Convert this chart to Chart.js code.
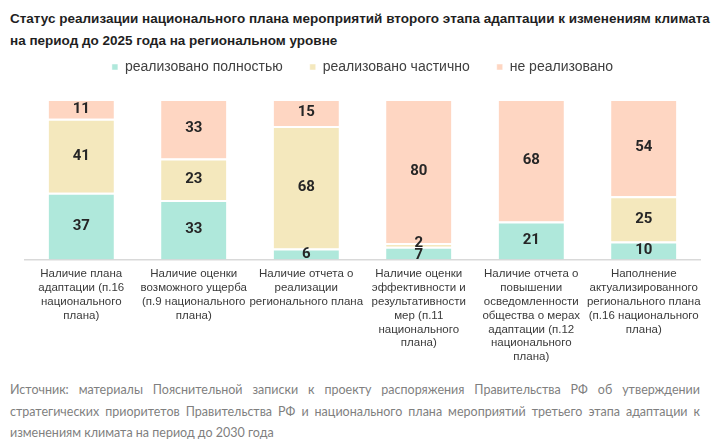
<!DOCTYPE html>
<html lang="ru">
<head>
<meta charset="utf-8">
<script src="https://cdn.jsdelivr.net/npm/chart.js@4"></script>
<style>
  html, body { margin: 0; padding: 0; background: #fff; }
  body { width: 724px; height: 446px; position: relative; overflow: hidden; }
  .title {
    position: absolute; left: 10px; top: 8px; width: 690px;
    font-family: "Liberation Sans Narrow", "Liberation Sans", Arial, sans-serif;
    font-weight: bold; font-size: 13.5px; line-height: 22px; color: #1f1f1f;
  }
  .source {
    position: absolute; left: 10px; top: 379px; width: 690px;
    font-family: Lato, "Open Sans", sans-serif;
    font-size: 12.5px; line-height: 21.5px; color: #7f7f7f;
  }
  .jl { display: block; text-align: justify; text-align-last: justify; white-space: nowrap; }
  .ll { display: block; }
  .wrap { position: absolute; left: 0; top: 33px; width: 724px; height: 339px; }
</style>
</head>
<body>
<div class="title">
  <span class="jl">Статус реализации национального плана мероприятий второго этапа адаптации к изменениям климата</span>
  <span class="ll">на период до 2025 года на региональном уровне</span>
</div>
<div class="wrap"><canvas id="chart"></canvas></div>
<div class="source">
  <span class="jl">Источник: материалы Пояснительной записки к проекту распоряжения Правительства РФ об утверждении</span>
  <span class="jl">стратегических приоритетов Правительства РФ и национального плана мероприятий третьего этапа адаптации к</span>
  <span class="ll">изменениям климата на период до 2030 года</span>
</div>
<script>
// Категории (подписи оси X, построчно)
const categories = [
  ['Наличие плана', 'адаптации (п.16', 'национального', 'плана)'],
  ['Наличие оценки', 'возможного ущерба', '(п.9 национального', 'плана)'],
  ['Наличие отчета о', 'реализации', 'регионального плана'],
  ['Наличие оценки', 'эффективности и', 'результативности', 'мер (п.11', 'национального', 'плана)'],
  ['Наличие отчета о', 'повышении', 'осведомленности', 'общества о мерах', 'адаптации (п.12', 'национального', 'плана)'],
  ['Наполнение', 'актуализированного', 'регионального плана', '(п.16 национального', 'плана)']
];

const seriesNames = ['реализовано полностью', 'реализовано частично', 'не реализовано'];
const fullValues    = [37, 33, 6, 7, 21, 10];
const partialValues = [41, 23, 68, 2, 0, 25];
const noneValues    = [11, 33, 15, 80, 68, 54];

const colors = ['#afe8db', '#f4e8bd', '#fed6c2'];

// Подписи значений в центре сегментов, с раздвижкой при наложении
const segmentLabels = {
  id: 'segmentLabels',
  afterDatasetsDraw(chart) {
    const ctx = chart.ctx;
    ctx.save();
    ctx.font = 'bold 15px Roboto, "Liberation Sans", sans-serif';
    ctx.fillStyle = '#262626';
    ctx.textAlign = 'center';
    ctx.textBaseline = 'middle';
    const n = chart.data.labels.length;
    for (let i = 0; i < n; i++) {
      const pts = [];
      chart.data.datasets.forEach((ds, d) => {
        const v = ds.data[i];
        if (!v) return;
        const bar = chart.getDatasetMeta(d).data[i];
        pts.push({ x: bar.x, y: (bar.y + bar.base) / 2, v });
      });
      for (let k = 1; k < pts.length; k++) {
        const gap = pts[k - 1].y - pts[k].y;
        if (gap < 12) {
          const push = (12 - gap) / 2;
          pts[k - 1].y += push;
          pts[k].y -= push;
        }
      }
      pts.forEach(p => ctx.fillText(String(p.v), p.x, p.y));
    }
    ctx.restore();
  }
};

// Отступ под легендой
const legendGap = {
  id: 'legendGap',
  beforeInit(chart) {
    const fit = chart.legend.fit;
    chart.legend.fit = function () {
      fit.call(this);
      this.height += 15;
    };
  }
};

const valueSets = [fullValues, partialValues, noneValues];

new Chart(document.getElementById('chart'), {
  type: 'bar',
  data: {
    labels: categories,
    datasets: seriesNames.map((name, i) => ({
      label: name,
      data: valueSets[i],
      backgroundColor: colors[i],
      borderColor: '#ffffff',
      borderWidth: { top: 2, bottom: 0, left: 0, right: 0 },
      borderSkipped: false,
      barPercentage: 0.58,
      categoryPercentage: 1
    }))
  },
  options: {
    responsive: true,
    maintainAspectRatio: false,
    animation: false,
    layout: { padding: { left: 25, right: 24, top: 0, bottom: 0 } },
    scales: {
      x: {
        stacked: true,
        grid: { display: false, drawTicks: false },
        border: { display: true, color: '#d9d9d9', width: 1.5 },
        ticks: {
          maxRotation: 0,
          autoSkip: false,
          color: '#3a3a3a',
          padding: 8,
          font: { family: '"Liberation Sans Narrow", "Liberation Sans", sans-serif', size: 11.5, lineHeight: 1.2 }
        }
      },
      y: {
        stacked: true,
        display: false,
        min: 0,
        max: 89
      }
    },
    plugins: {
      tooltip: { enabled: false },
      legend: {
        position: 'top',
        labels: {
          boxWidth: 6,
          boxHeight: 6,
          padding: 27,
          color: '#404040',
          font: { family: '"Liberation Sans", Arial, sans-serif', size: 14 }
        }
      }
    }
  },
  plugins: [segmentLabels, legendGap]
});
</script>
</body>
</html>
